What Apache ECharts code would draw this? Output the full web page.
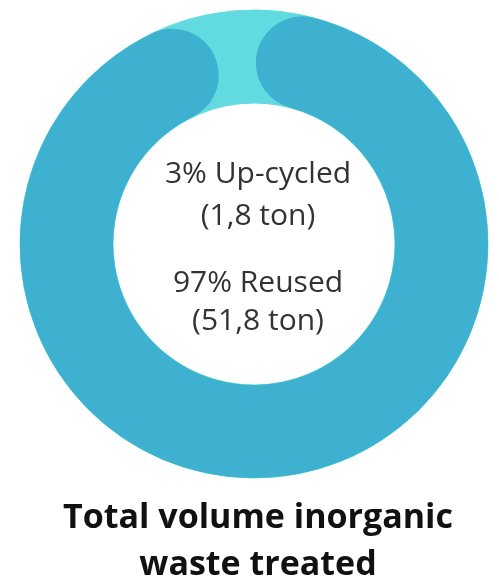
<!DOCTYPE html>
<html><head><meta charset="utf-8">
<script src="https://cdn.jsdelivr.net/npm/echarts@6/dist/echarts.min.js"></script>
<style>html,body{margin:0;padding:0;background:#fff}#c{width:499px;height:583px}</style>
</head><body><div id="c"></div>
<script>
const categories = ['Up-cycled', 'Reused'];
const tons = [1.8, 51.8];
const percents = [3, 97];
const tonLabels = ['1,8', '51,8'];
const titleLines = ['Total volume inorganic', 'waste treated'];

const chart = echarts.init(document.getElementById('c'));
const center = [254, 244];
const radius = [141, 234];
const font = 'Open Sans';
const light = '#62dbe0';

const titles = [
  {text: percents[0] + '% ' + categories[0], top: 154},
  {text: '(' + tonLabels[0] + ' ton)', top: 196},
  {text: percents[1] + '% ' + categories[1], top: 263},
  {text: '(' + tonLabels[1] + ' ton)', top: 301}
].map(t => ({text: t.text, left: 253, top: t.top, textAlign: 'center',
  textStyle: {fontFamily: font, fontSize: 30, fontWeight: 'normal', color: '#333'}}));
titles.push({text: titleLines[0], left: 253, top: 496, textAlign: 'center',
  textStyle: {fontFamily: font, fontSize: 34, fontWeight: 700, color: '#111'}});
titles.push({text: titleLines[1], left: 253, top: 543, textAlign: 'center',
  textStyle: {fontFamily: font, fontSize: 34, fontWeight: 700, color: '#111'}});

chart.setOption({
  animation: false,
  title: titles,
  series: [
    {
      type: 'pie', silent: true, center, radius, startAngle: 101.5,
      label: {show: false}, labelLine: {show: false},
      itemStyle: {color: light, borderColor: light, borderWidth: 1},
      data: categories.map((n, i) => ({name: n, value: tons[i]}))
    },
    {
      type: 'pie', silent: true, center, radius, startAngle: 101.5,
      label: {show: false}, labelLine: {show: false},
      data: categories.map((n, i) => ({name: n, value: tons[i],
        itemStyle: i === 0 ? {color: 'rgba(0,0,0,0)', borderWidth: 0} : {color: '#3fb1d0', borderWidth: 0, borderRadius: 47}}))
    }
  ]
});
</script></body></html>
